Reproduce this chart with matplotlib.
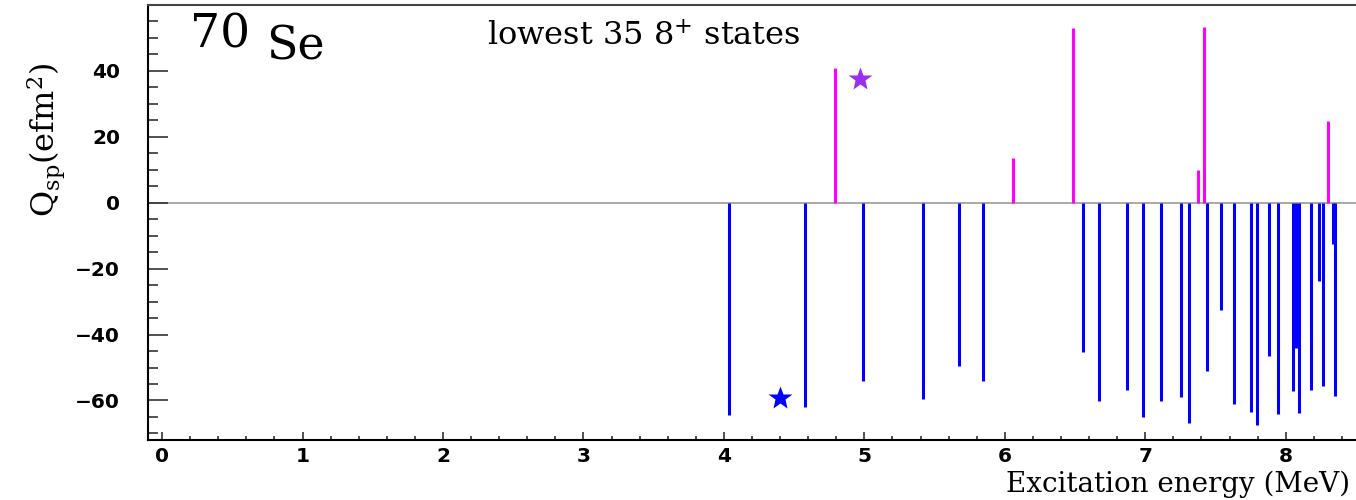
import numpy as np
import matplotlib
matplotlib.use('Agg')
import matplotlib.pyplot as plt
from matplotlib.ticker import MultipleLocator

# Spectroscopic quadrupole moments of the lowest 8+ states in 70Se
neg_energy = [4.034, 4.575, 4.988, 5.418, 5.671, 5.842, 6.556, 6.673, 6.867, 6.986,
              7.114, 7.251, 7.308, 7.441, 7.539, 7.628, 7.752, 7.792, 7.880, 7.942,
              8.048, 8.070, 8.096, 8.179, 8.238, 8.267, 8.336, 8.350]
neg_qsp = [-64.4, -61.9, -54.1, -59.6, -49.6, -54.0, -45.3, -60.3, -56.7, -65.1,
           -60.2, -59.0, -66.8, -51.0, -32.6, -61.1, -63.5, -67.3, -46.6, -64.0,
           -57.0, -44.0, -63.9, -56.7, -23.9, -55.7, -12.6, -58.7]
pos_energy = [4.789, 6.058, 6.483, 7.372, 7.420, 8.298]
pos_qsp = [40.8, 13.5, 52.9, 9.8, 53.4, 24.9]

# experimental points (stars)
star_obl = (4.40, -59.4)
star_pro = (4.97, 37.6)

plt.rcParams['mathtext.fontset'] = 'dejavuserif'

W, H = 1356, 500
fig = plt.figure(figsize=(W / 100, H / 100), dpi=100)
ax = fig.add_axes([148 / W, 60 / H, 1 - 148 / W, 435 / H])

ax.axhline(0, color='#999999', lw=1.2, zorder=1)
ax.vlines(neg_energy, 0, neg_qsp, color='#0000ff', lw=2.2, zorder=2)
ax.vlines(pos_energy, 0, pos_qsp, color='#ff00ff', lw=2.2, zorder=2)
ax.plot(*star_obl, marker='*', ms=18, color='#0000ff', mec='none', zorder=3)
ax.plot(*star_pro, marker='*', ms=18, color='#9a30ee', mec='none', zorder=3)

ax.set_xlim(-0.1, 8.5)
ax.set_ylim(-72, 60)

ax.xaxis.set_major_locator(MultipleLocator(1))
ax.xaxis.set_minor_locator(MultipleLocator(0.2))
ax.yaxis.set_major_locator(MultipleLocator(20))
ax.yaxis.set_minor_locator(MultipleLocator(5))
ax.set_yticks([-60, -40, -20, 0, 20, 40])

ax.tick_params(axis='both', which='both', direction='in', color='#333333', width=1.2)
ax.tick_params(axis='x', which='major', length=6, pad=5)
ax.tick_params(axis='x', which='minor', length=3)
ax.tick_params(axis='y', which='major', length=14.5, pad=20)
ax.tick_params(axis='y', which='minor', length=7.2)
for lab in ax.get_xticklabels() + ax.get_yticklabels():
    lab.set_fontfamily('DejaVu Sans')
    lab.set_fontweight('bold')
    lab.set_fontsize(14.5)

ax.spines['right'].set_visible(False)
ax.spines['top'].set_color('#444444')
for s in ['top', 'left', 'bottom']:
    ax.spines[s].set_linewidth(1.5)

ax.set_ylabel(r'Q$_{\mathrm{sp}}$(efm$^{2}$)', family='DejaVu Serif', fontsize=23)
ax.yaxis.set_label_coords(-0.066, 0.69)

fig.text(1350 / W, 1 - 492 / H, 'Excitation energy (MeV)', family='DejaVu Serif',
         fontsize=20, ha='right', va='baseline')
fig.text(190 / W, 1 - 48 / H, '70', family='DejaVu Serif', fontsize=34, va='baseline')
fig.text(266 / W, 1 - 59 / H, 'Se', family='DejaVu Serif', fontsize=33, va='baseline')
fig.text(487 / W, 1 - 45 / H, r'lowest 35 8$^{+}$ states', family='DejaVu Serif',
         fontsize=23, va='baseline')

fig.savefig('out.png', dpi=100)
